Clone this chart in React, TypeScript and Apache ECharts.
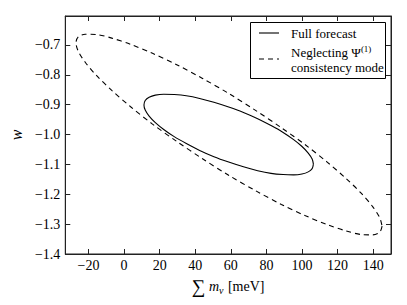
import React, { useEffect, useRef } from "react";
import * as echarts from "echarts";

// Full forecast ellipse: [sum m_nu (meV), w]
const fullX = [106.4, 105.7, 103.5, 100.0, 95.3, 89.4, 82.6, 75.1, 67.1, 58.8, 50.5, 42.5, 35.0, 28.2, 22.3, 17.6, 14.1, 11.9, 11.2, 11.9, 14.1, 17.6, 22.3, 28.2, 35.0, 42.5, 50.5, 58.8, 67.1, 75.1, 82.6, 89.4, 95.3, 100.0, 103.5, 105.7, 106.4];
const fullY = [-1.099, -1.114, -1.125, -1.132, -1.135, -1.134, -1.130, -1.121, -1.108, -1.092, -1.074, -1.053, -1.030, -1.007, -0.983, -0.960, -0.938, -0.918, -0.901, -0.886, -0.875, -0.868, -0.865, -0.866, -0.870, -0.879, -0.892, -0.908, -0.926, -0.947, -0.970, -0.993, -1.017, -1.040, -1.062, -1.082, -1.099];

// Neglecting Psi^(1) consistency mode ellipse
const neglX = [145, 143.7, 139.8, 133.5, 124.9, 114.3, 102, 88.4, 73.9, 59, 44.1, 29.6, 16, 3.7, -6.9, -15.5, -21.8, -25.7, -27, -25.7, -21.8, -15.5, -6.9, 3.7, 16, 29.6, 44.1, 59, 73.9, 88.4, 102, 114.3, 124.9, 133.5, 139.8, 143.7, 145];
const neglY = [-1.307, -1.327, -1.336, -1.335, -1.323, -1.302, -1.272, -1.234, -1.188, -1.137, -1.081, -1.023, -0.965, -0.907, -0.852, -0.802, -0.758, -0.721, -0.693, -0.673, -0.664, -0.665, -0.677, -0.698, -0.728, -0.766, -0.812, -0.863, -0.919, -0.977, -1.035, -1.093, -1.148, -1.198, -1.242, -1.279, -1.307];

const xTicks = [-20, 0, 20, 40, 60, 80, 100, 120, 140];
const yTicks = [-1.4, -1.3, -1.2, -1.1, -1.0, -0.9, -0.8, -0.7];

const seriesNames = ["Full forecast", "Neglecting Ψ(1) consistency mode"];

const FONT = "'Liberation Serif', 'DejaVu Serif', serif";

const fmt = (v: number, d: number) => {
  const s = Math.abs(v).toFixed(d);
  return v < 0 ? "\u2212" + s : s;
};

export default function App() {
  const ref = useRef<HTMLDivElement>(null);
  useEffect(() => {
    if (!ref.current) return;
    const chart = echarts.init(ref.current, undefined, { renderer: "svg" });
    const xMin = -33, xMax = 150, yMin = -1.4, yMax = -0.603;
    const tickStyle = { show: true, inside: true, length: 5, lineStyle: { color: "#222", width: 1 } };
    const axisLine = { show: true, onZero: false, lineStyle: { color: "#222", width: 1 } };
    chart.setOption({
      animation: false,
      backgroundColor: "#fff",
      grid: { left: 65, right: 16, top: 16, bottom: 51, containLabel: false, show: true, borderColor: "#222", borderWidth: 1, backgroundColor: "transparent" },
      xAxis: [
        {
          type: "value",
          min: xMin,
          max: xMax,
          position: "bottom",
          axisLine,
          axisTick: { ...tickStyle, customValues: xTicks },
          splitLine: { show: false },
          axisLabel: {
            customValues: xTicks,
            formatter: (v: number) => fmt(v, 0),
            fontFamily: FONT,
            fontSize: 14,
            color: "#000",
            margin: 4,
          },
          name: "{s|∑} {i|m}{sub|ν} [meV]",
          nameLocation: "middle",
          nameGap: 15,
          nameTextStyle: {
            fontFamily: FONT,
            fontSize: 14,
            color: "#000",
            rich: {
              s: { fontFamily: FONT, fontSize: 19, color: "#000" },
              i: { fontFamily: FONT, fontSize: 14, fontStyle: "italic", color: "#000" },
              sub: { fontFamily: FONT, fontSize: 10, fontStyle: "italic", color: "#000", verticalAlign: "bottom", padding: [6, 1, 0, 0] },
            },
          },
        },
        {
          type: "value",
          min: xMin,
          max: xMax,
          position: "top",
          axisLine,
          axisTick: { ...tickStyle, customValues: xTicks },
          axisLabel: { show: false },
          splitLine: { show: false },
        },
      ],
      yAxis: [
        {
          type: "value",
          min: yMin,
          max: yMax,
          position: "left",
          axisLine,
          axisTick: { ...tickStyle, customValues: yTicks },
          splitLine: { show: false },
          axisLabel: {
            customValues: yTicks,
            formatter: (v: number) => fmt(v, 1),
            fontFamily: FONT,
            fontSize: 14,
            color: "#000",
            margin: 5,
          },
          name: "w",
          nameLocation: "middle",
          nameGap: 39,
          nameRotate: 90,
          nameTextStyle: { fontFamily: FONT, fontSize: 16, fontStyle: "italic", color: "#000" },
        },
        {
          type: "value",
          min: yMin,
          max: yMax,
          position: "right",
          axisLine,
          axisTick: { ...tickStyle, customValues: yTicks },
          axisLabel: { show: false },
          splitLine: { show: false },
        },
      ],
      graphic: [
        {
          type: "rect",
          z: 100,
          shape: { x: 250.5, y: 22.5, width: 135, height: 56 },
          style: { fill: "#fff", stroke: "#000", lineWidth: 1 },
        },
        {
          type: "line",
          z: 101,
          shape: { x1: 259, y1: 33, x2: 279, y2: 33 },
          style: { stroke: "#000", lineWidth: 1.1 },
        },
        {
          type: "line",
          z: 101,
          shape: { x1: 259, y1: 59, x2: 279, y2: 59 },
          style: { stroke: "#000", lineWidth: 1.1, lineDash: [5, 4] },
        },
        {
          type: "text",
          z: 101,
          x: 291,
          y: 33,
          style: { text: seriesNames[0], fontFamily: FONT, fontSize: 13, fill: "#000", verticalAlign: "middle", align: "left" },
        },
        {
          type: "text",
          z: 101,
          x: 291,
          y: 52,
          style: {
            text: "{n|Neglecting Ψ}{sup|(1)}",
            fontFamily: FONT,
            fontSize: 13,
            fill: "#000",
            verticalAlign: "middle",
            align: "left",
            rich: {
              n: { fontFamily: FONT, fontSize: 13, fill: "#000" },
              sup: { fontFamily: FONT, fontSize: 9, fill: "#000", padding: [0, 0, 7, 0] },
            },
          },
        },
        {
          type: "text",
          z: 101,
          x: 291,
          y: 67,
          style: { text: "consistency mode", fontFamily: FONT, fontSize: 13, fill: "#000", verticalAlign: "middle", align: "left" },
        },
      ],
      series: [
        {
          name: seriesNames[0],
          type: "line",
          xAxisIndex: 0,
          yAxisIndex: 0,
          symbol: "none",
          smooth: 0.3,
          lineStyle: { color: "#000", width: 1.1, type: "solid" },
          itemStyle: { color: "#000" },
          data: fullX.map((x, i) => [x, fullY[i]]),
        },
        {
          name: seriesNames[1],
          type: "line",
          xAxisIndex: 0,
          yAxisIndex: 0,
          symbol: "none",
          smooth: 0.3,
          lineStyle: { color: "#000", width: 1.1, type: [5, 4] },
          itemStyle: { color: "#000" },
          data: neglX.map((x, i) => [x, neglY[i]]),
        },
      ],
    });
    return () => chart.dispose();
  }, []);
  return <div ref={ref} style={{ position: "absolute", left: 0, top: 0, width: 407, height: 305 }} />;
}
